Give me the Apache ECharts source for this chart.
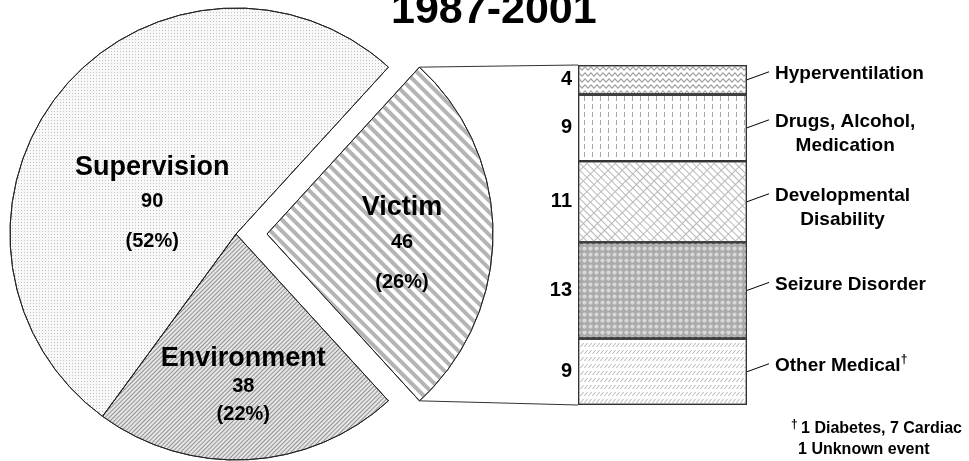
<!DOCTYPE html>
<html>
<head>
<meta charset="utf-8">
<script src="https://cdn.jsdelivr.net/npm/echarts@6/dist/echarts.min.js"></script>
<style>
  html, body { margin: 0; background: #fff; }
  #main { width: 969px; height: 461px; }
</style>
</head>
<body>
<div id="main"></div>
<script>
// pie: cause groups (Victim first so it sits on the right)
const causeNames = ['Victim', 'Environment', 'Supervision']
const causeValues = [46, 38, 90]
// victim breakdown, bottom to top of the bar
const victimNames = ['Other Medical', 'Seizure Disorder', 'Developmental\nDisability', 'Drugs, Alcohol,\nMedication', 'Hyperventilation']
const victimValues = [9, 13, 11, 9, 4]
const titleText = '1987-2001'
const footNote = ['1 Diabetes, 7 Cardiac', '1 Unknown event']

const FONT = '"Liberation Sans", Arial, sans-serif'
const pieCenter = [236, 234]
const pieR = 226
const explode = 31
const barGrid = {left: 578, top: 65, width: 169, height: 340}

const causeSum = causeValues.reduce((a, b) => a + b, 0)
const victimSum = victimValues.reduce((a, b) => a + b, 0)
const halfVictim = 180 * causeValues[0] / causeSum // victim wedge centred on 0 deg

// fills for the pie slices
const pieStyles = [
  {color: '#ffffff', decal: {symbol: 'rect', symbolSize: 1, dashArrayX: [1, 0], dashArrayY: [4, 4], rotation: Math.PI / 4, color: '#b4b4b4'}},
  {color: '#e6e6e6', decal: {symbol: 'rect', symbolSize: 1, dashArrayX: [1, 0], dashArrayY: [1, 2], rotation: -Math.PI / 4, color: '#929292'}},
  {color: '#f8f8f8', decal: {symbol: 'rect', symbolSize: 1, dashArrayX: [1, 2], dashArrayY: [1, 2], color: '#c4c4c4'}}
]
// label shift [dx, dy] and line heights per slice
const pieLabelShift = [[19, 14], [1, 37], [6, 47]]
const pieLineH = [[30, 38, 42], [28, 28, 28], [30, 38, 42]]

// fills for the bar segments (bottom to top)
const barStyles = [
  {color: '#ffffff', decal: {symbol: 'path://M0,4 L3,0 L4,0 L1,4Z', symbolSize: 1, symbolKeepAspect: false, dashArrayX: [4, 0], dashArrayY: [4, 3], color: '#b0b0b0'}},
  {color: '#aaaaaa', decal: {symbol: 'circle', symbolSize: 0.85, dashArrayX: [5, 1], dashArrayY: [5, 1], color: '#d8d8d8'}},
  {color: '#ffffff', decal: {symbol: 'path://M0,0H10V1H1V5H0Z', symbolSize: 1, symbolKeepAspect: false, dashArrayX: [10, 0], dashArrayY: [5, 0], rotation: Math.PI / 4, color: '#b8b8b8'}},
  {color: '#ffffff', decal: {symbol: 'rect', symbolSize: 1, dashArrayX: [1, 7], dashArrayY: [5, 3], color: '#a8a8a8'}},
  {color: '#ffffff', decal: {symbol: 'path://M0,3 L3,0 L6,3 L9,0 L12,3 L12,4.5 L9,1.5 L6,4.5 L3,1.5 L0,4.5Z', symbolSize: 1, symbolKeepAspect: false, dashArrayX: [12, 0], dashArrayY: [5, 1], color: '#a0a0a0'}}
]

const pieData = causeNames.map((name, i) => {
  const h = pieLineH[i]
  return {
    name: name,
    value: causeValues[i],
    selected: i === 0,
    itemStyle: pieStyles[i],
    label: {
      rich: {
        n: {fontSize: 27, fontWeight: 'bold', fontFamily: FONT, color: '#000', lineHeight: h[0]},
        v: {fontSize: 20, fontWeight: 'bold', fontFamily: FONT, color: '#000', lineHeight: h[1]},
        p: {fontSize: 20, fontWeight: 'bold', fontFamily: FONT, color: '#000', lineHeight: h[2]}
      }
    }
  }
})

const barSeries = victimNames.map((name, i) => ({
  name: name,
  type: 'bar',
  stack: 'victim',
  barWidth: '100%',
  data: [victimValues[i]],
  itemStyle: Object.assign({borderColor: '#333', borderWidth: 1.2}, barStyles[i]),
  label: {
    show: true,
    position: 'left',
    distance: 6,
    fontSize: 20,
    fontWeight: 'bold',
    fontFamily: FONT,
    color: '#000'
  },
  emphasis: {disabled: true}
}))

const option = {
  animation: false,
  title: {
    text: titleText,
    left: 391,
    top: -10,
    padding: 0,
    textStyle: {fontSize: 43, fontWeight: 'bold', fontFamily: FONT, color: '#000'}
  },
  grid: barGrid,
  xAxis: {type: 'category', data: [''], show: false},
  yAxis: {type: 'value', min: 0, max: victimSum, show: false},
  series: [
    {
      type: 'pie',
      center: pieCenter,
      radius: pieR,
      startAngle: halfVictim,
      clockwise: true,
      selectedMode: 'single',
      selectedOffset: explode,
      avoidLabelOverlap: false,
      itemStyle: {borderColor: '#222', borderWidth: 1},
      label: {
        show: true,
        position: 'inside',
        formatter: p => '{n|' + p.name + '}\n{v|' + p.value + '}\n{p|(' + Math.round(p.percent) + '%)}'
      },
      labelLine: {show: false},
      labelLayout: params => {
        const s = pieLabelShift[params.dataIndex]
        return {dx: s[0], dy: s[1]}
      },
      emphasis: {disabled: true},
      data: pieData
    }
  ].concat(barSeries)
}

const chart = echarts.init(document.getElementById('main'))
chart.setOption(option)

// connectors, segment names and footnote, placed from the drawn geometry
// (added straight to the renderer so the series layout is not run twice)
const zr = chart.getZr()
const ctx = document.createElement('canvas').getContext('2d')
const textW = (s, font) => {
  ctx.font = font
  return Math.max.apply(null, s.split('\n').map(l => ctx.measureText(l).width))
}
const LABEL_FONT = 'bold 19px ' + FONT
const NOTE_FONT = 'bold 16px ' + FONT
const addLine = (x1, y1, x2, y2, stroke) => zr.add(new echarts.graphic.Line({
  shape: {x1: x1, y1: y1, x2: x2, y2: y2}, style: {stroke: stroke, lineWidth: 1}, z: 10
}))
const addText = (x, y, style) => zr.add(new echarts.graphic.Text({x: x, y: y, style: style, z: 10}))

const barLeft = barGrid.left
const barRight = barGrid.left + barGrid.width
const yTop = chart.convertToPixel({gridIndex: 0}, [0, victimSum])[1]
const yBot = chart.convertToPixel({gridIndex: 0}, [0, 0])[1]
const a = halfVictim * Math.PI / 180
const apex = [pieCenter[0] + explode, pieCenter[1]]
addLine(apex[0] + pieR * Math.cos(a), apex[1] - pieR * Math.sin(a), barLeft, yTop, '#333')
addLine(apex[0] + pieR * Math.cos(a), apex[1] + pieR * Math.sin(a), barLeft, yBot, '#333')

let cum = 0
victimNames.forEach((name, i) => {
  const mid = chart.convertToPixel({gridIndex: 0}, [0, cum + victimValues[i] / 2])[1]
  cum += victimValues[i]
  const endX = barRight + 22
  const endY = mid - 8
  addLine(barRight, mid, endX, endY, '#000')
  const x0 = endX + 6
  const lineY = endY + 2
  if (i === 0) {
    addText(x0, lineY, {
      text: '{t|' + name + '}{s|†}',
      align: 'left', verticalAlign: 'middle',
      rich: {
        t: {fontSize: 19, fontWeight: 'bold', fontFamily: FONT, fill: '#000', lineHeight: 24},
        s: {fontSize: 12, fontWeight: 'bold', fontFamily: FONT, fill: '#000', verticalAlign: 'top'}
      }
    })
  } else if (name.indexOf('\n') >= 0) {
    addText(x0 + textW(name, LABEL_FONT) / 2, lineY - 12,
      {text: name, align: 'center', verticalAlign: 'top', lineHeight: 24, font: LABEL_FONT, fill: '#000'})
  } else {
    addText(x0, lineY, {text: name, align: 'left', verticalAlign: 'middle', font: LABEL_FONT, fill: '#000'})
  }
})

// footnote: first line ends at the right edge, second line starts under its "1"
const noteRight = 962
const note1W = textW(footNote[0], NOTE_FONT)
addText(noteRight, 429, {
  text: '{s|†} {t|' + footNote[0] + '}', align: 'right', verticalAlign: 'middle',
  rich: {
    s: {fontSize: 12, fontWeight: 'bold', fontFamily: FONT, fill: '#000', verticalAlign: 'top'},
    t: {fontSize: 16, fontWeight: 'bold', fontFamily: FONT, fill: '#000', lineHeight: 20}
  }
})
addText(noteRight - note1W - 3, 450, {text: footNote[1], align: 'left', verticalAlign: 'middle', font: NOTE_FONT, fill: '#000'})
</script>
</body>
</html>
